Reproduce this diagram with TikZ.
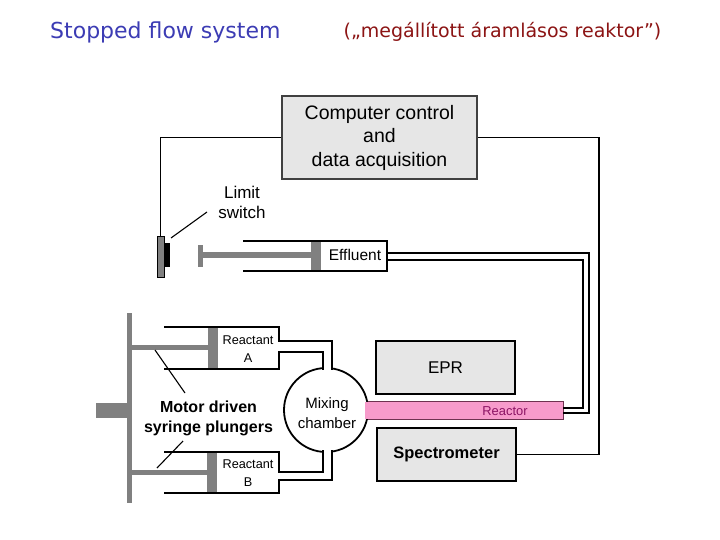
\documentclass[tikz,border=0pt]{standalone}
\usepackage{fontspec}
\setmainfont{Liberation Sans}
\newfontfamily\titlefont{DejaVu Sans}
\definecolor{boxgray}{RGB}{230,230,230}
\definecolor{compborder}{RGB}{64,64,64}
\definecolor{plgray}{RGB}{128,128,128}
\definecolor{pinkr}{RGB}{247,155,203}
\definecolor{reactorborder}{RGB}{110,50,80}
\definecolor{reactortext}{RGB}{140,20,100}
\definecolor{tblue}{RGB}{60,60,180}
\definecolor{tred}{RGB}{140,20,20}
\begin{document}
\begin{tikzpicture}[x=1pt,y=-1pt,
  wire/.style={line width=1.8pt,line join=miter},
  tube/.style={line width=1.8pt,line join=miter},
  pointer/.style={line width=1.1pt},
  instr/.style={draw=black,line width=2pt,fill=boxgray,inner sep=0pt},
  lbl/.style={inner sep=0pt,align=center}]
\useasboundingbox (0,0) rectangle (720,540);
\fill[white] (0,0) rectangle (720,540);

% titles
\node[lbl,anchor=west,text=tblue,font=\titlefont\fontsize{22}{24}\selectfont] (title) at (50,32) {Stopped flow system};
\node[lbl,text=tred,font=\titlefont\fontsize{19}{22}\selectfont] (subtitle) at (502.5,32) {(„megállított áramlásos reaktor”)};

% computer
\node[instr,draw=compborder,line width=2.2pt,minimum width=195pt,minimum height=83pt,font=\fontsize{19.5}{23.5}\selectfont,align=center] (comp) at (379.5,137.5) {Computer control\\and\\data acquisition};

% instruments
\node[instr,minimum width=139pt,minimum height=53pt,font=\fontsize{17}{20}\selectfont] (epr) at (445.5,367.5) {EPR};
\node[instr,minimum width=139pt,minimum height=53pt,font=\bfseries\fontsize{16.5}{20}\selectfont] (spec) at (446.5,454.5) {Spectrometer};

% limit switch
\node[draw=black,line width=0.8pt,fill=plgray,minimum width=7pt,minimum height=41pt,inner sep=0pt] (lsw) at (160.5,256.5) {};
\node[fill=black,minimum width=6pt,minimum height=24pt,inner sep=0pt] (lswk) at (167,255) {};
\node[lbl,font=\fontsize{17}{20}\selectfont] (lswlabel) at (242,202) {Limit\\switch};
\coordinate (lswtip) at (207,212);
\coordinate (lswbase) at (171,238);
\draw[pointer] (lswbase) -- (lswtip);

% wires
\coordinate (rw) at (599,300);
\draw[wire] (comp.west) -| (lsw.north);
\draw[wire] (comp.east) -| (rw) |- (spec.east);

% effluent syringe
\fill[plgray] (198,252) rectangle (311,258);
\fill[plgray] (198,245) rectangle (203,267);
\fill[plgray] (311,241) rectangle (321,271);
\draw[tube] (243,241) -- (387,241) -- (387,271) -- (243,271);
\node[lbl,font=\fontsize{15.5}{18}\selectfont] (eff) at (355,255) {Effluent};

% plunger drive
\fill[plgray] (127,313) rectangle (132,503);
\fill[plgray] (96,403) rectangle (127,418);

% reactant A
\fill[plgray] (132,345) rectangle (208,350);
\fill[plgray] (208,327) rectangle (218,369);
% reactant B
\fill[plgray] (132,470) rectangle (207,475);
\fill[plgray] (207,452) rectangle (217,493);

% mixing chamber
\node[circle,draw=black,line width=1.8pt,fill=white,minimum size=84pt,inner sep=0pt] (mix) at (326,410) {};
\fill[white] (324,360) rectangle (331,375);
\fill[white] (324,445) rectangle (331,460);
\node[lbl,font=\fontsize{15}{20}\selectfont] (mixlbl) at (327,413) {Mixing\\chamber};

\draw[tube] (164,327) -- (279,327) -- (279,341) -- (332,341) -- (332,370);
\draw[tube] (164,369) -- (279,369) -- (279,352) -- (323,352) -- (323,370);
\draw[tube] (164,452) -- (279,452) -- (279,472) -- (323,472) -- (323,450);
\draw[tube] (164,493) -- (279,493) -- (279,480) -- (332,480) -- (332,450);
\node[lbl,font=\fontsize{12.7}{18}\selectfont] (ra) at (248,349) {Reactant\\A};
\node[lbl,font=\fontsize{12.7}{18}\selectfont] (rb) at (248,473) {Reactant\\B};

% motor label
\node[lbl,font=\bfseries\fontsize{16}{20}\selectfont] (motor) at (208.5,418) {Motor driven\\syringe plungers};
\coordinate (pa1) at (155,350);
\coordinate (pa2) at (185,393);
\coordinate (pb1) at (157,468);
\coordinate (pb2) at (183,441);
\draw[pointer] (pa1) -- (pa2);
\draw[pointer] (pb1) -- (pb2);

% reactor
\node[fill=pinkr,minimum width=198pt,minimum height=17pt,inner sep=0pt] (reactor) at (464,410.5) {};
\draw[line width=1pt,draw=reactorborder] ([xshift=3pt]reactor.north west) -- (reactor.north east) -- (reactor.south east) -- ([xshift=3pt]reactor.south west);
\node[lbl,text=reactortext,font=\fontsize{12.9}{14}\selectfont] (reactlbl) at (505,411) {Reactor};

% effluent tubes
\coordinate (eo1) at (387,253);
\coordinate (eo2) at (387,260);
\coordinate (ri1) at (563,413);
\coordinate (ri2) at (563,408);
\draw[tube] (eo1) -- (589,253) -- (589,413) -- (ri1);
\draw[tube] (eo2) -- (583,260) -- (583,408) -- (ri2);
\end{tikzpicture}
\end{document}
